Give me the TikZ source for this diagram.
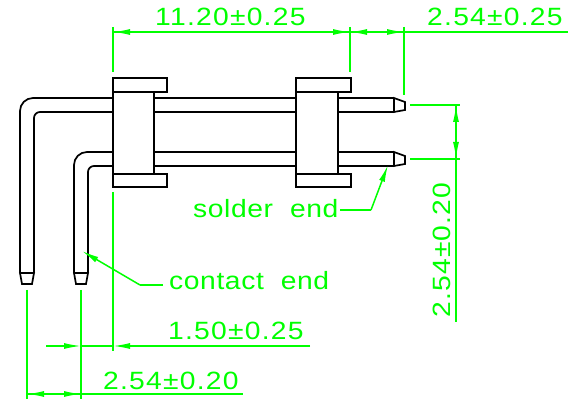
\documentclass[tikz,border=0pt]{standalone}
\usepackage{fontspec}
\setmainfont{Liberation Sans}
\newfontfamily\dimfont[LetterSpace=5,FakeStretch=1.13]{Liberation Sans}
\newfontfamily\labfont[LetterSpace=2.4,FakeStretch=1.13,WordSpace=2]{Liberation Sans}
\usetikzlibrary{arrows.meta}
\definecolor{cadgreen}{RGB}{0,255,0}
\tikzset{
  part/.style={draw=black,line width=1.7pt,fill=white,line join=miter},
  pin/.style={draw=black,line width=1.7pt},
  dimline/.style={draw=cadgreen,line width=1.5pt},
  dimtip/.style={dimline,-{Latex[length=17pt,width=6pt]}},
  dimlabel/.style={text=cadgreen,inner sep=0pt,anchor=base west,font=\fontsize{25}{25}\dimfont},
  leadlabel/.style={text=cadgreen,inner sep=0pt,anchor=base west,font=\fontsize{25}{25}\labfont}
}
\begin{document}
\begin{tikzpicture}[x=1pt,y=-1pt]
\useasboundingbox (0,0) rectangle (573,403);
% pins
\draw[pin,rounded corners=13pt] (394,98) -- (20,98) -- (20,273);
\draw[pin,rounded corners=6pt] (394,112) -- (34,112) -- (34,273);
\draw[pin,rounded corners=13pt] (394,152) -- (74,152) -- (74,273);
\draw[pin,rounded corners=6pt] (394,166) -- (88,166) -- (88,273);
\draw[part] (394,98) -- (405,102) -- (405,110) -- (394,112) -- cycle;
\draw[part] (394,152) -- (405,156) -- (405,164) -- (394,166) -- cycle;
\draw[part] (20,273) -- (22,284) -- (32,284) -- (34,273) -- cycle;
\draw[part] (74,273) -- (76,284) -- (86,284) -- (88,273) -- cycle;
% housings
\draw[part] (113,92) rectangle (154,174);
\draw[part] (113,78) rectangle (167,92);
\draw[part] (113,174) rectangle (167,187);
\draw[part] (296,92) rectangle (338,174);
\draw[part] (296,78) rectangle (351,92);
\draw[part] (296,174) rectangle (351,187);
% extension lines
\coordinate (a1) at (113,27); \coordinate (a2) at (113,72);
\coordinate (b1) at (350,27); \coordinate (b2) at (350,72);
\coordinate (c1) at (404,27); \coordinate (c2) at (404,95);
\draw[dimline] (a1) -- (a2);
\draw[dimline] (b1) -- (b2);
\draw[dimline] (c1) -- (c2);
\coordinate (d1) at (410,105); \coordinate (d2) at (460,105);
\coordinate (e1) at (410,159); \coordinate (e2) at (460,159);
\draw[dimline] (d1) -- (d2);
\draw[dimline] (e1) -- (e2);
\coordinate (f1) at (113,192); \coordinate (f2) at (113,351);
\coordinate (g1) at (27,290); \coordinate (g2) at (27,399);
\coordinate (h1) at (81,290); \coordinate (h2) at (81,399);
\draw[dimline] (f1) -- (f2);
\draw[dimline] (g1) -- (g2);
\draw[dimline] (h1) -- (h2);
% dimension lines
\coordinate (t1) at (113,32); \coordinate (t2) at (350,32); \coordinate (t3) at (404,32); \coordinate (t4) at (568,32);
\draw[dimtip] (t2) -- (t1);
\draw[dimtip] (t1) -- (t2);
\draw[dimtip] (t3) -- (t2);
\draw[dimtip] (t2) -- (t3);
\draw[dimline] (t3) -- (t4);
\coordinate (r1) at (456,105); \coordinate (r2) at (456,159); \coordinate (r3) at (456,322);
\draw[dimtip] (r2) -- (r1);
\draw[dimtip] (r1) -- (r2);
\draw[dimline] (r2) -- (r3);
\coordinate (m0) at (46,346); \coordinate (m1) at (81,346); \coordinate (m2) at (113,346); \coordinate (m3) at (310,346);
\draw[dimtip] (m0) -- (m1);
\draw[dimtip] (m3) -- (m2);
\draw[dimline] (m1) -- (m2);
\coordinate (n1) at (27,394); \coordinate (n2) at (81,394); \coordinate (n3) at (243,394);
\draw[dimtip] (n2) -- (n1);
\draw[dimtip] (n1) -- (n2);
\draw[dimline] (n2) -- (n3);
% leaders
\coordinate (s0) at (388,165); \coordinate (s1) at (371,210); \coordinate (s2) at (340,210);
\draw[dimline] (s2) -- (s1);
\draw[dimtip] (s1) -- (s0);
\coordinate (p0) at (82,251); \coordinate (p1) at (140,285); \coordinate (p2) at (163,285);
\draw[dimline] (p2) -- (p1);
\draw[dimtip] (p1) -- (p0);
% labels
\node[dimlabel] (l1) at (155,26) {11.20±0.25};
\node[dimlabel] (l2) at (427,26) {2.54±0.25};
\node[dimlabel] (l3) at (168,340) {1.50±0.25};
\node[dimlabel] (l4) at (103,389) {2.54±0.20};
\node[dimlabel,rotate=90] (l5) at (450,318) {2.54±0.20};
\node[leadlabel] (l6) at (193,218) {solder end};
\node[leadlabel] (l7) at (169,290) {contact end};
\end{tikzpicture}
\end{document}
